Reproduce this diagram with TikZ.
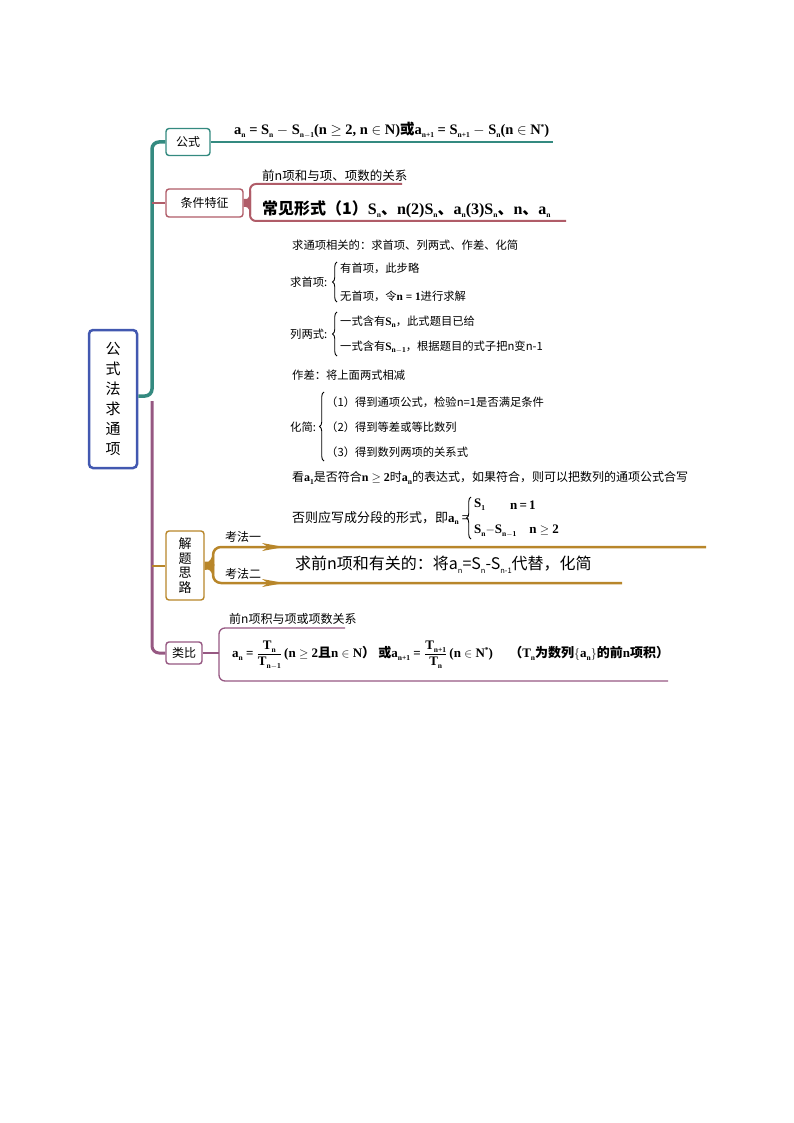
\documentclass[tikz,border=0pt]{standalone}
\usepackage{fontspec}
\setmainfont{Liberation Serif}
\newfontfamily\cjk{Noto Sans CJK SC}
\usetikzlibrary{decorations.pathreplacing}
\definecolor{cteal}{RGB}{52,138,128}
\definecolor{cmaroon}{RGB}{176,92,104}
\definecolor{cpurple}{RGB}{150,88,130}
\definecolor{cgold}{RGB}{184,134,42}
\definecolor{cblue}{RGB}{66,88,176}
\newcommand\ls[1]{\raisebox{-0.45ex}{\fontsize{7.5}{8}\selectfont #1}}
\newcommand\us[1]{\raisebox{0.75ex}{\fontsize{7.5}{8}\selectfont #1}}
\newcommand\mth[1]{{\rmfamily\bfseries #1}}
\tikzset{
  box/.style={draw, rounded corners=3pt, line width=1.4pt, fill=white, inner sep=0pt, align=center, font=\cjk\fontsize{12}{14}\selectfont},
  zh/.style={anchor=west, inner sep=0pt, font=\cjk\fontsize{11.3}{13}\selectfont},
  frm/.style={inner sep=0pt, font=\rmfamily\bfseries\fontsize{14.5}{16}\selectfont},
  curly/.style={decorate, decoration={brace, amplitude=4.5pt}, line width=0.9pt},
}
\begin{document}
\begin{tikzpicture}[x=1pt,y=-1pt]
\useasboundingbox (0,0) rectangle (794,1123);
% root
\node[draw=cblue, line width=2.5pt, rounded corners=4pt, minimum width=48pt, minimum height=138pt, inner sep=0pt, align=center, font=\cjk\fontsize{15}{20}\selectfont] (root) at (113,399) {公\\式\\法\\求\\通\\项};
% branch boxes
\node[box, draw=cteal, minimum width=44pt, minimum height=27pt] (gs) at (188,142) {公式};
\node[box, draw=cmaroon, minimum width=77pt, minimum height=28pt] (tj) at (204.5,203) {条件特征};
\node[box, draw=cgold, minimum width=38pt, minimum height=69pt, font=\cjk\fontsize{13}{14.5}\selectfont] (jt) at (185,565.5) {解\\题\\思\\路};
\node[box, draw=cpurple, minimum width=36pt, minimum height=22pt] (lb) at (184,653) {类比};
% trunk
\coordinate (tt) at (152,396);
\coordinate (tb) at (152,401);
\draw[cteal, line width=3.5pt, rounded corners=7pt] ([yshift=3pt]root.east) -- (tt) -- (tt |- gs.west) -- (gs.west);
\draw[cpurple, line width=3pt, rounded corners=7pt] (tb) -- (tb |- lb.west) -- (lb.west);
\draw[cmaroon, line width=2pt] (tt |- tj.west) -- (tj.west);
\draw[cgold, line width=2pt] (tt |- jt.west) -- (jt.west);
% 公式
\coordinate (gsend) at (553,142);
\draw[cteal, line width=1.5pt] (gs.east) -- (gsend);
\node[frm, anchor=south west] (f1) at (234,138.5) {a\ls{n} = S\ls{n} $-$ S\ls{n$-$1}(n $\geq$ 2, n $\in$ N){\cjk 或}a\ls{n+1} = S\ls{n+1} $-$ S\ls{n}(n $\in$ N\us{*})};
% 条件特征
\coordinate (tjb) at (250,203);
\fill[cmaroon] ([yshift=4pt]tj.east) -- ++(3,0) .. controls (248,199) and (249.5,196) .. (251,191) -- (251,215) .. controls (249.5,210) and (248,207) .. (246,207) -- ([yshift=-4pt]tj.east) -- cycle;
\draw[cmaroon, line width=2pt, rounded corners=6pt] (402,184) -- (tjb |- 0,184) -- (tjb |- 0,221) -- (566,221);
\node[anchor=south west, inner sep=0pt, font=\cjk\fontsize{12.5}{14}\selectfont] (l1) at (262,181.5) {前n项和与项、项数的关系};
\node[anchor=south west, inner sep=0pt, font=\rmfamily\bfseries\fontsize{16}{18}\selectfont] (c1) at (262,218) {{\cjk\fontsize{16}{18}\selectfont 常见形式（1）}S\ls{n}{\cjk 、}n(2)S\ls{n}{\cjk 、}a\ls{n}(3)S\ls{n}{\cjk 、}n{\cjk 、}a\ls{n}};
% 解题思路 block (考法一)
\node[zh] (b1) at (292,245) {求通项相关的：求首项、列两式、作差、化简};
\node[zh] (b2) at (290,282) {求首项:};
\draw[curly] (337,302) -- (337,262);
\node[zh] (b2a) at (340,268) {有首项，此步略};
\node[zh] (b2b) at (340,296) {无首项，令\mth{n = 1}进行求解};
\node[zh] (b3) at (290,334) {列两式:};
\draw[curly] (337,356) -- (337,312);
\node[zh] (b3a) at (340,322) {一式含有\mth{S\ls{n}}，此式题目已给};
\node[zh] (b3b) at (340,347) {一式含有\mth{S\ls{n$-$1}}，根据题目的式子把n变n-1};
\node[zh] (b4) at (292,375) {作差：将上面两式相减};
\node[zh] (b5) at (290,427) {化简:};
\draw[curly] (324,461) -- (324,392);
\node[zh] (b5a) at (326,402) {（1）得到通项公式，检验n=1是否满足条件};
\node[zh] (b5b) at (326,427) {（2）得到等差或等比数列};
\node[zh] (b5c) at (326,452) {（3）得到数列两项的关系式};
\node[zh, font=\cjk\fontsize{12}{14}\selectfont] (b6) at (292,478) {看\mth{a\ls{1}}是否符合\mth{n $\geq$ 2}时\mth{a\ls{n}}的表达式，如果符合，则可以把数列的通项公式合写};
\node[zh, font=\cjk\fontsize{13}{14}\selectfont] (b7) at (292,518) {否则应写成分段的形式，即\mth{a\ls{n}} =};
\draw[curly] (471,539) -- (471,497);
\node[zh, font=\rmfamily\bfseries\fontsize{13}{14}\selectfont] (b7a) at (474,505) {S\ls{1}};
\node[zh, font=\rmfamily\bfseries\fontsize{13}{14}\selectfont] (b7b) at (510,505) {n\,=\,1};
\node[zh, font=\rmfamily\bfseries\fontsize{13}{14}\selectfont] (b7c) at (474,531) {S\ls{n}$-$S\ls{n$-$1}\quad n $\geq$ 2};
% 解题思路 connectors
\coordinate (jb) at (213,565);
\fill[cgold] ([yshift=4pt]jt.east) -- ++(4,0) .. controls (211,560) and (212.5,556) .. (214,549) -- (214,581) .. controls (212.5,574) and (211,570) .. (208,569.5) -- ([yshift=-4.5pt]jt.east) -- cycle;
\coordinate (k1end) at (706,547);
\coordinate (k2end) at (622,583);
\draw[cgold, line width=2.5pt, rounded corners=8pt] ([yshift=-1pt]jb) -- (jb |- k1end) -- (k1end);
\draw[cgold, line width=2.5pt, rounded corners=8pt] ([yshift=1pt]jb) -- (jb |- k2end) -- (k2end);
\fill[cgold] (262,543) -- (284,547) -- (262,551) -- (268,547) -- cycle;
\fill[cgold] (262,579) -- (284,583) -- (262,587) -- (268,583) -- cycle;
\node[inner sep=0pt, font=\cjk\fontsize{12}{14}\selectfont] (k1) at (243,537) {考法一};
\node[inner sep=0pt, font=\cjk\fontsize{12}{14}\selectfont] (k2) at (243,574) {考法二};
\node[anchor=west, inner sep=0pt, font=\cjk\fontsize{16}{18}\selectfont] (k2t) at (295,565) {求前n项和有关的：将a\ls{n}=S\ls{n}-S\ls{n-1}代替，化简};
% 类比
\coordinate (lbb) at (219,653);
\draw[cpurple, line width=1.3pt] (lb.east) -- (lbb);
\draw[cpurple, line width=1.3pt, rounded corners=6pt] (345,628) -- (lbb |- 0,628) -- (lbb |- 0,681) -- (668,681);
\node[anchor=south west, inner sep=0pt, font=\cjk\fontsize{12}{14}\selectfont] (l2) at (229,625) {前n项积与项或项数关系};
\node[anchor=west, inner sep=0pt, font=\rmfamily\bfseries\fontsize{13}{15}\selectfont] (f2) at (232,655) {a\ls{n} = $\displaystyle\frac{\hbox{T\ls{n}}}{\hbox{T\ls{n$-$1}}}$\,(n $\geq$ 2{\cjk 且}n $\in$ N{\cjk ）}\ {\cjk 或}a\ls{n+1} = $\displaystyle\frac{\hbox{T\ls{n+1}}}{\hbox{T\ls{n}}}$\,(n $\in$ N\us{*})\quad\ {\cjk （}T\ls{n}{\cjk 为数列}$\{$a\ls{n}$\}${\cjk 的前}n{\cjk 项积）}};
\end{tikzpicture}
\end{document}
